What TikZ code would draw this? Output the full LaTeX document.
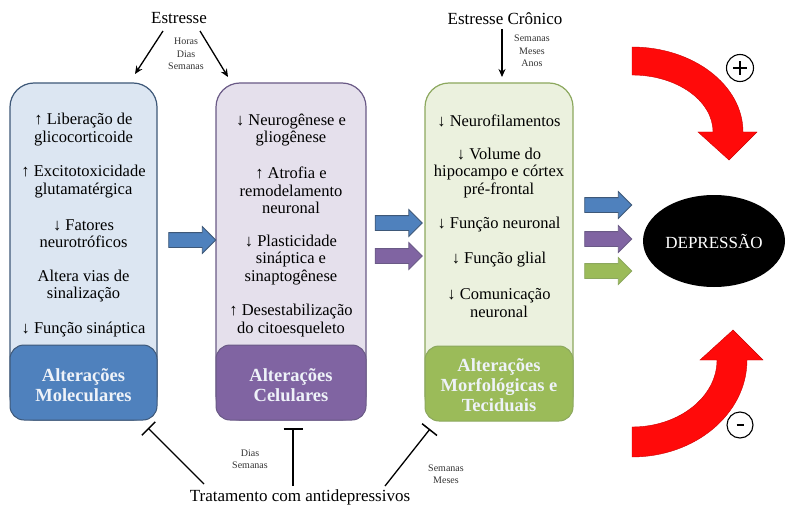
\documentclass[tikz,border=0pt]{standalone}
\usepackage{fontspec}
\setmainfont{Liberation Serif}
\usetikzlibrary{shapes.geometric,shapes.arrows,arrows.meta}
\definecolor{bAbg}{HTML}{DCE6F2}
\definecolor{bAft}{HTML}{4F81BD}
\definecolor{bAbr}{HTML}{3E5878}
\definecolor{bBbg}{HTML}{E5E0EC}
\definecolor{bBft}{HTML}{8064A2}
\definecolor{bBbr}{HTML}{6A5A86}
\definecolor{bCbg}{HTML}{EBF1DE}
\definecolor{bCft}{HTML}{9BBB59}
\definecolor{bCbr}{HTML}{8CA85E}
\definecolor{ftxt}{HTML}{EEF2F8}
\definecolor{redA}{HTML}{FF0A0A}
\tikzset{
  mainbox/.style={rounded corners=24pt, line width=1.2pt, minimum width=#1, minimum height=337pt, inner sep=0pt},
  footbox/.style={rounded corners=14pt, line width=1pt, minimum width=#1, minimum height=75pt, inner sep=0pt},
  itemtxt/.style={align=center, font=\fontsize{16.5}{17.5}\selectfont, inner sep=0pt},
  foottxt/.style={align=center, font=\fontsize{18.5}{20}\selectfont\bfseries, text=ftxt, inner sep=0pt},
  bigtxt/.style={font=\fontsize{17}{20}\selectfont, inner sep=0pt},
  smalltxt/.style={align=center, font=\fontsize{10}{12.5}\selectfont, text=black!80, inner sep=0pt},
  barrow/.style={single arrow, single arrow head extend=6pt, minimum height=47pt, inner sep=7pt, line width=0.8pt},
  stressarrow/.style={line width=1.3pt, -{Stealth[length=8pt,width=7pt]}},
  inhib/.style={line width=1.3pt, -{Bar[width=19pt,line width=1.5pt]}},
}
\begin{document}
\begin{tikzpicture}[x=1pt,y=-1pt]
\useasboundingbox (0,0) rectangle (800,508);
% boxes
\node[mainbox=147pt, fill=bAbg, draw=bAbr] (boxA) at (83.5,251.5) {};
\node[mainbox=150pt, fill=bBbg, draw=bBbr] (boxB) at (291,251.5) {};
\node[mainbox=148pt, fill=bCbg, draw=bCbr] (boxC) at (499,251.5) {};
\node[footbox=147pt, fill=bAft, draw=bAbr] (footA) at (83.5,382.5) {};
\node[footbox=150pt, fill=bBft, draw=bBbr] (footB) at (291,382.5) {};
\node[footbox=148pt, fill=bCft, draw=bCbr] (footC) at (499,383.5) {};
\node[foottxt] (fA) at (83.5,385) {Alterações\\Moleculares};
\node[foottxt] (fB) at (291,385) {Alterações\\Celulares};
\node[foottxt] (fC) at (499,385) {Alterações\\Morfológicas e\\Teciduais};
% box A items
\node[itemtxt] (a1) at (83.5,129.5) {↑ Liberação de\\glicocorticoide};
\node[itemtxt] (a2) at (83.5,181.5) {↑ Excitotoxicidade\\glutamatérgica};
\node[itemtxt] (a3) at (83.5,233.5) {↓ Fatores\\neurotróficos};
\node[itemtxt] (a4) at (83.5,286) {Altera vias de\\sinalização};
\node[itemtxt] (a5) at (83.5,330) {↓ Função sináptica};
% box B items
\node[itemtxt] (b1) at (291,130) {↓ Neurogênese e\\gliogênese};
\node[itemtxt] (b2) at (291,190.5) {↑ Atrofia e\\remodelamento\\neuronal};
\node[itemtxt] (b3) at (291,260) {↓ Plasticidade\\sináptica e\\sinaptogênese};
\node[itemtxt] (b4) at (291,320.5) {↑ Desestabilização\\do citoesqueleto};
% box C items
\node[itemtxt] (c1) at (499,121) {↓ Neurofilamentos};
\node[itemtxt] (c2) at (499,173) {↓ Volume do\\hipocampo e córtex\\pré-frontal};
\node[itemtxt] (c3) at (499,225) {↓ Função neuronal};
\node[itemtxt] (c4) at (499,260) {↓ Função glial};
\node[itemtxt] (c5) at (499,303) {↓ Comunicação\\neuronal};
% block arrows
\node[barrow, fill=bAft, draw=bAbr] (arA) at (188.5,240) {};
\node[barrow, fill=bAft, draw=bAbr] (arB1) at (395,223) {};
\node[barrow, fill=bBft, draw=bBbr] (arB2) at (395,256) {};
\node[barrow, fill=bAft, draw=bAbr] (arC1) at (604.5,205) {};
\node[barrow, fill=bBft, draw=bBbr] (arC2) at (604.5,239) {};
\node[barrow, fill=bCft, draw=bCbr] (arC3) at (604.5,271) {};
% depression
\node[ellipse, fill=black, minimum width=142pt, minimum height=92pt, inner sep=0pt, text=white, font=\fontsize{17}{20}\selectfont] (dep) at (714,241) {DEPRESSÃO};
% red arrows
\fill[redA, draw=red!80!black, line width=0.4pt] (632,47) .. controls (693,47) and (743,85) .. (743,132) -- (757,132) -- (729,160) -- (698,132) -- (713,132) .. controls (713,100.5) and (676.7,75) .. (632,75) -- cycle;
\fill[redA, draw=red!80!black, line width=0.4pt] (632,457) .. controls (695.5,457) and (747,413.6) .. (747,360) -- (763,360) -- (733,330) -- (700,360) -- (717,360) .. controls (717,397) and (679,427) .. (632,427) -- cycle;
\node[circle, draw=black, line width=1.1pt, minimum size=27pt, inner sep=0pt] (plus) at (740,68) {};
\draw[line width=1.6pt] ([xshift=-7pt]plus.center) -- ([xshift=7pt]plus.center);
\draw[line width=1.6pt] ([yshift=-7pt]plus.center) -- ([yshift=7pt]plus.center);
\node[circle, draw=black, line width=1.1pt, minimum size=26pt, inner sep=0pt] (minus) at (740,425) {};
\draw[line width=2.6pt] ([xshift=-3.5pt]minus.center) -- ([xshift=3.5pt]minus.center);
% stress
\node[bigtxt] (est) at (179,18) {Estresse};
\node[smalltxt] (hds) at (186,54) {Horas\\Dias\\Semanas};
\coordinate (s1a) at (163,31);
\coordinate (s1b) at (135,74);
\coordinate (s2a) at (200,31);
\coordinate (s2b) at (228,77);
\draw[stressarrow] (s1a) -- (s1b);
\draw[stressarrow] (s2a) -- (s2b);
\node[bigtxt] (estc) at (505,19) {Estresse Crônico};
\node[smalltxt] (sma) at (532,51) {Semanas\\Meses\\Anos};
\coordinate (s3a) at (502,29);
\coordinate (s3b) at (502,77);
\draw[stressarrow] (s3a) -- (s3b);
% treatment
\node[bigtxt] (trat) at (300,497) {Tratamento com antidepressivos};
\node[smalltxt] (ds) at (250,459) {Dias\\Semanas};
\node[smalltxt] (sm) at (446,474) {Semanas\\Meses};
\coordinate (t1a) at (204,484);
\coordinate (t1b) at (148,428);
\coordinate (t2a) at (293,486);
\coordinate (t2b) at (293,428);
\coordinate (t3a) at (385,486);
\coordinate (t3b) at (430,429);
\draw[inhib] (t1a) -- (t1b);
\draw[inhib] (t2a) -- (t2b);
\draw[inhib] (t3a) -- (t3b);
\end{tikzpicture}
\end{document}
